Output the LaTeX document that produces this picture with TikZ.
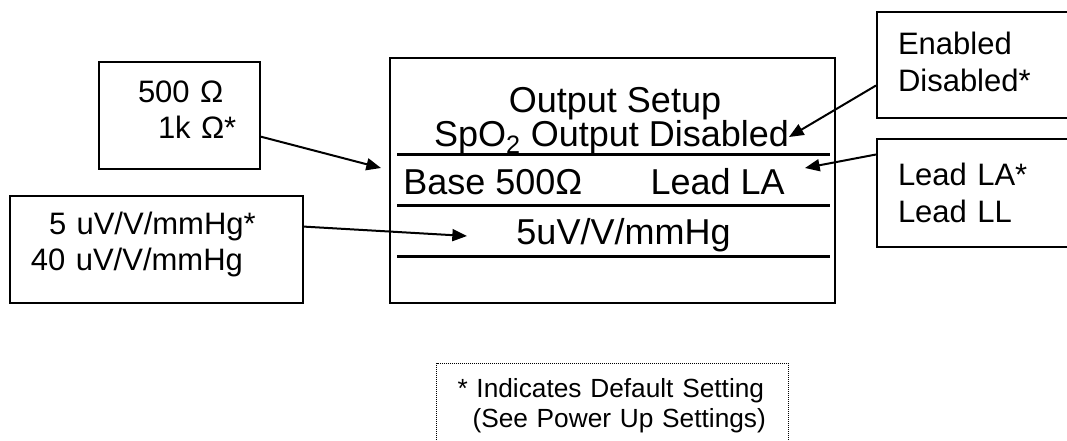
\documentclass[tikz,border=0pt]{standalone}
\usepackage{fontspec}
\setmainfont{Liberation Sans}
\usetikzlibrary{positioning,arrows.meta,calc}

\begin{document}
\begin{tikzpicture}[
  x=0.75pt, y=-0.75pt,
  optbox/.style={draw, line width=1.5pt, anchor=north west, align=left,
                 inner ysep=0pt, font={\fontsize{23.25pt}{27.4pt}\selectfont}},
  lcdtext/.style={font={\fontsize{27pt}{31pt}\selectfont}, inner sep=0pt},
  sep/.style={line width=2.25pt},
  arrow/.style={-{Triangle[length=11pt,width=9pt]}, line width=1.5pt},
  legend/.style={draw, line width=0.75pt, dash pattern=on 0.75pt off 0.75pt,
                 anchor=north west, align=left,
                 font={\fontsize{19.7pt}{22.6pt}\selectfont}},
]
\useasboundingbox (0,0) rectangle (1067,441);
\clip (0,0) rectangle (1067,441);

\node[draw, line width=1.5pt, anchor=north west, inner sep=0pt,
      minimum width=333.75pt, minimum height=183.75pt] (lcd) at (389,57) {};
\foreach \y in {155,206,257}{ \draw[sep] (397,\y) -- (830,\y); }

\node[lcdtext, anchor=base]      (title)    at (615,113)   {Output Setup};
\node[lcdtext, anchor=base]      (spoline)  at (611.5,147) {SpO\textsubscript{2} Output Disabled};
\node[lcdtext, anchor=base west] (base)     at (403,195)   {Base 500Ω};
\node[lcdtext, anchor=base east] (leadline) at (785,195)   {Lead LA};
\node[lcdtext, anchor=base]      (unit)     at (623.5,245) {5uV/V/mmHg};

\node[optbox, text width=77.25pt, inner xsep=21.75pt, minimum height=80.25pt,
      text depth=36.4pt] (ohm) at (98,61)
  {\hspace*{7.5pt}500~Ω\\\hspace*{22.5pt}1k~Ω*};
\node[optbox, text width=188.25pt, inner xsep=15.75pt, minimum height=80.25pt,
      text depth=39.8pt] (sens) at (9,195)
  {\hspace*{13.5pt}5 uV/V/mmHg*\\40 uV/V/mmHg};
\node[optbox, text width=121.5pt, inner xsep=15.75pt, minimum height=79.5pt,
      text depth=32pt] (spo) at (876,11)
  {Enabled\\Disabled*};
\node[optbox, text width=121.5pt, inner xsep=15.75pt, minimum height=81pt] (lead) at (876,138)
  {Lead LA*\\Lead LL};

\coordinate (t1) at (381,168);
\coordinate (t2) at (467,236);
\coordinate (t3) at (789,137);
\coordinate (t4) at (805,168);

\draw[arrow] (ohm) -- (t1);
\draw[arrow] ($(sens.north east)!0.29!(sens.south east)$) -- (t2);
\draw[arrow] ($(spo.north west)!0.69!(spo.south west)$) -- (t3);
\draw[arrow] ($(lead.north west)!0.15!(lead.south west)$) -- (t4);

\node[legend, text width=232.5pt, inner xsep=15.75pt, inner ysep=11.25pt] (key) at (436,363)
  {* Indicates Default Setting\\\hspace*{11.25pt}(See Power Up Settings)};
\end{tikzpicture}
\end{document}
